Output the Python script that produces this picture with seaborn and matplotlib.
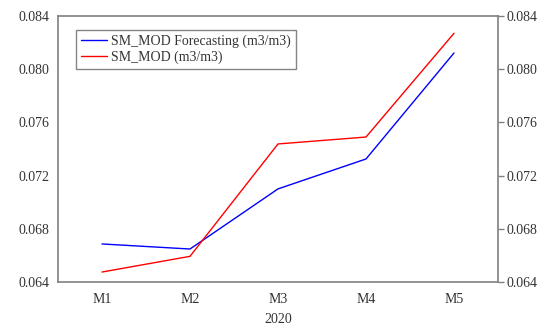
import numpy as np
import pandas as pd
import seaborn as sns
import matplotlib.pyplot as plt

# data
months = ['M1', 'M2', 'M3', 'M4', 'M5']
forecast = [0.06686, 0.06648, 0.07100, 0.07325, 0.08122]
observed = [0.06475, 0.06593, 0.07438, 0.07490, 0.08270]
yticks = [0.064, 0.068, 0.072, 0.076, 0.080, 0.084]

lab_fc = 'SM_MOD Forecasting (m3/m3)'
lab_ob = 'SM_MOD (m3/m3)'

df = pd.DataFrame({
    'month': months * 2,
    'value': forecast + observed,
    'series': [lab_fc] * 5 + [lab_ob] * 5,
})

sns.set_style('white')
plt.rcParams['font.family'] = ['Liberation Serif', 'DejaVu Serif']

fig = plt.figure(figsize=(5.5, 3.3), dpi=100)
ax = fig.add_axes([58 / 550, 1 - 282 / 330, 440 / 550, 266 / 330])

sns.lineplot(data=df, x='month', y='value', hue='series',
             palette={lab_fc: '#0000ff', lab_ob: '#ff0000'},
             linewidth=1.0, ax=ax, sort=False)

ax.set_xlim(-0.5, 4.5)
ax.set_ylim(0.064, 0.084)
ax.set_yticks(yticks)
ax.set_yticklabels([f'{v:.3f}' for v in yticks])
ax.set_xticks(range(5))
ax.set_xticklabels(months)
ax.set_xticks(np.arange(-0.5, 5, 1), minor=True)

fs = 10
ax.tick_params(axis='x', which='major', length=0, labelsize=fs, pad=8, colors='#333333')
ax.tick_params(axis='x', which='minor', length=4, width=1, direction='out', color='#808080')
ax.tick_params(axis='y', length=4, width=1, direction='out', labelsize=fs,
               colors='#333333', right=True, labelright=True, pad=2)
ax.tick_params(axis='y', color='#808080')

for s in ax.spines.values():
    s.set_color('#808080')
    s.set_linewidth(1.2)

ax.set_xlabel('2020', fontsize=fs, color='#333333', labelpad=5)
ax.set_ylabel('')

leg = ax.legend(loc='upper left', bbox_to_anchor=(0.041, 0.947), borderaxespad=0,
                frameon=True, fancybox=False, fontsize=fs, handlelength=1.9,
                handletextpad=0.3, labelspacing=0.15, borderpad=0.35)
leg.get_frame().set_edgecolor('#666666')
leg.get_frame().set_linewidth(1.0)
for t in leg.get_texts():
    t.set_color('#333333')

fig.savefig('out.png', dpi=100)
